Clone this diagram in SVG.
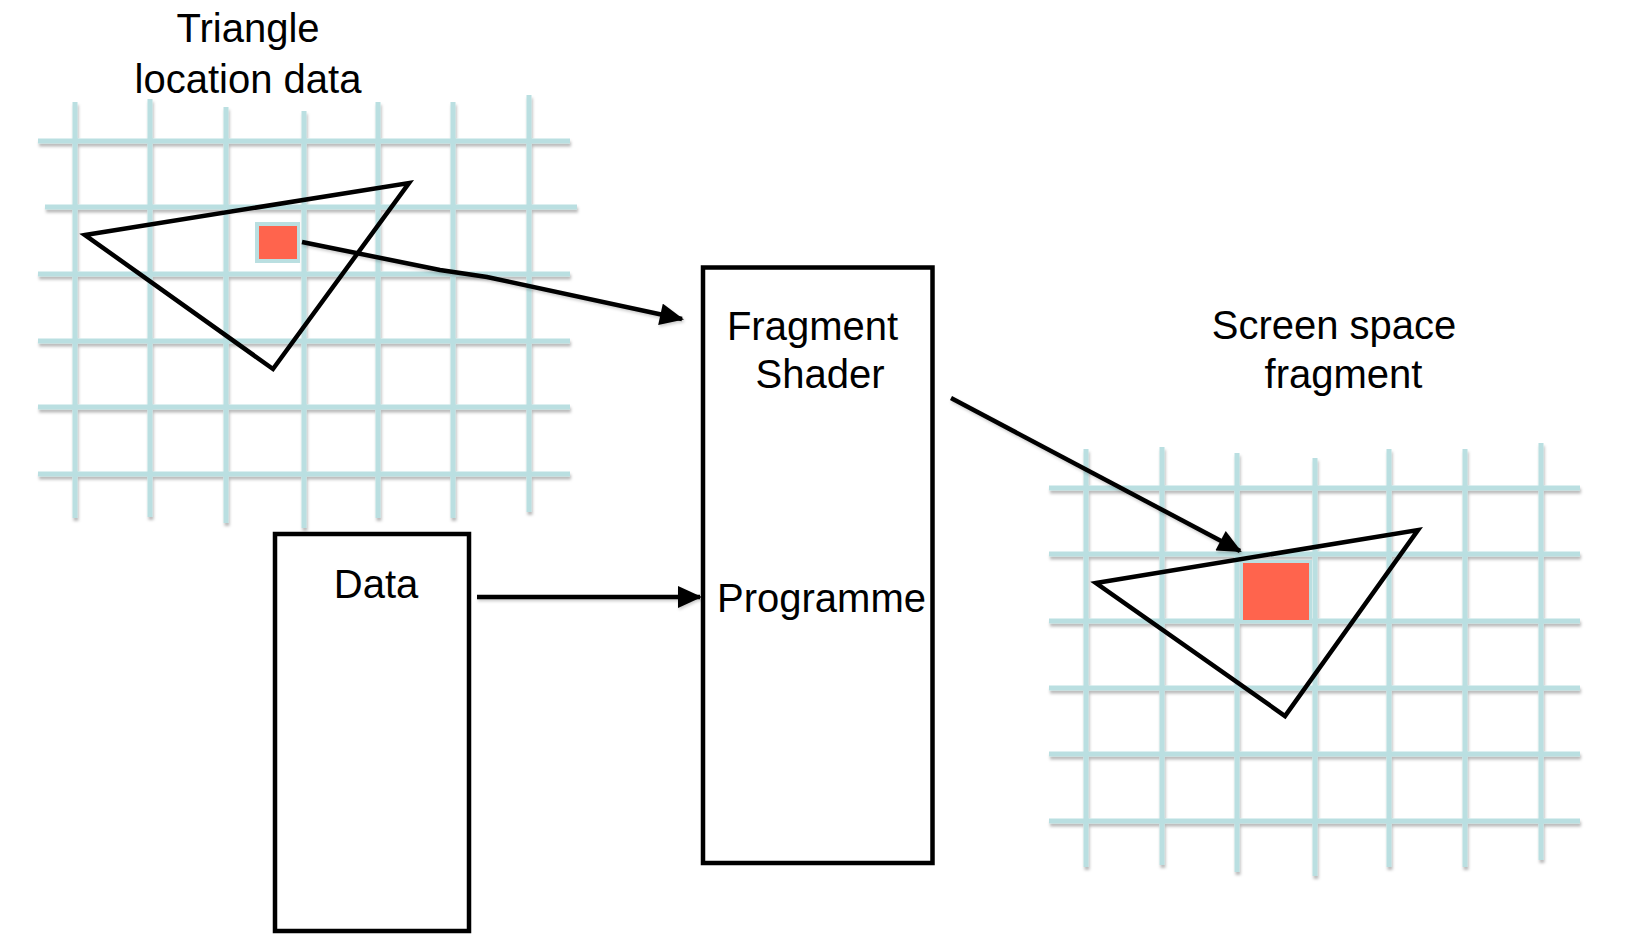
<svg xmlns="http://www.w3.org/2000/svg" width="1626" height="943" viewBox="0 0 1626 943">
<style>
  .grid line { stroke: #BADFE1; stroke-width: 5; }
  .box { fill: #FFFFFF; stroke: #000000; stroke-width: 4.5; }
  .tri { fill: none; stroke: #000000; stroke-width: 4.5; stroke-linejoin: miter; }
  .lbl { font-family: "Liberation Sans", Arial, sans-serif; font-size: 40px; fill: #000000; text-anchor: middle; }
  .conn { fill: none; stroke: #000000; stroke-width: 4.5; marker-end: url(#arrow); }
  .cell-border { fill: #BADFE1; }
  .cell { fill: #FF644D; }
</style>
<defs>
  <filter id="shadow" x="-5%" y="-5%" width="110%" height="115%">
    <feDropShadow dx="1" dy="3" stdDeviation="1.5" flood-color="#000000" flood-opacity="0.28"/>
  </filter>
  <filter id="lshadow" x="-5%" y="-10%" width="110%" height="130%">
    <feDropShadow dx="1" dy="2" stdDeviation="1.5" flood-color="#000000" flood-opacity="0.2"/>
  </filter>
  <marker id="arrow" markerUnits="userSpaceOnUse" markerWidth="26" markerHeight="22" viewBox="0 0 24 22" refX="22" refY="11" orient="auto">
    <path d="M0,0 L24,11 L0,22 Z" fill="#000000"/>
  </marker>
</defs>
<rect width="1626" height="943" fill="#FFFFFF"/>

<g id="triangle-location-data">
  <text class="lbl" x="248" y="42">Triangle</text>
  <text class="lbl" x="248" y="93">location data</text>
  <g class="grid" filter="url(#shadow)">
    <line x1="38" y1="141" x2="570" y2="141"/>
    <line x1="45" y1="207" x2="577" y2="207"/>
    <line x1="38" y1="274" x2="570" y2="274"/>
    <line x1="38" y1="341" x2="570" y2="341"/>
    <line x1="38" y1="407" x2="570" y2="407"/>
    <line x1="38" y1="474" x2="570" y2="474"/>
    <line x1="75" y1="102" x2="75" y2="518"/>
    <line x1="150" y1="99" x2="150" y2="517"/>
    <line x1="226" y1="107" x2="226" y2="523"/>
    <line x1="304" y1="111" x2="304" y2="528"/>
    <line x1="378" y1="102" x2="378" y2="518"/>
    <line x1="453" y1="102" x2="453" y2="518"/>
    <line x1="529" y1="95" x2="529" y2="512"/>
  </g>
  <rect class="cell-border" x="255" y="222" width="45" height="41"/>
  <rect class="cell" x="259" y="226" width="38" height="33"/>
  <polygon class="tri" points="85,235 409,183 273,369"/>
</g>

<g id="fragment-shader">
  <rect class="box" x="703" y="267.5" width="229.5" height="595.5"/>
  <text class="lbl" x="812.5" y="340">Fragment</text>
  <text class="lbl" x="820" y="388">Shader</text>
  <text class="lbl" x="821.5" y="612">Programme</text>
</g>

<g id="data">
  <rect class="box" x="275" y="534" width="194" height="397"/>
  <text class="lbl" x="376" y="598">Data</text>
</g>

<g id="screen-space-fragment">
  <text class="lbl" x="1334" y="339">Screen space</text>
  <text class="lbl" x="1343.5" y="388">fragment</text>
  <g class="grid" filter="url(#shadow)">
    <line x1="1049" y1="488" x2="1580" y2="488"/>
    <line x1="1049" y1="554" x2="1580" y2="554"/>
    <line x1="1049" y1="621" x2="1580" y2="621"/>
    <line x1="1049" y1="688" x2="1580" y2="688"/>
    <line x1="1049" y1="754" x2="1580" y2="754"/>
    <line x1="1049" y1="821" x2="1580" y2="821"/>
    <line x1="1086" y1="449" x2="1086" y2="867"/>
    <line x1="1162" y1="447" x2="1162" y2="865"/>
    <line x1="1237" y1="453" x2="1237" y2="872"/>
    <line x1="1315" y1="458" x2="1315" y2="876"/>
    <line x1="1389" y1="449" x2="1389" y2="867"/>
    <line x1="1465" y1="449" x2="1465" y2="867"/>
    <line x1="1541" y1="443" x2="1541" y2="860"/>
  </g>
  <rect class="cell-border" x="1240" y="560" width="72" height="63"/>
  <rect class="cell" x="1243" y="563" width="66" height="57"/>
  <polygon class="tri" points="1096,583 1418,530 1285,716"/>
</g>

<g id="connectors" filter="url(#lshadow)">
  <polyline class="conn" points="302,242 440,270 487,277 682,319"/>
  <line class="conn" x1="477" y1="597" x2="700" y2="597"/>
  <line class="conn" x1="951" y1="398" x2="1240" y2="551"/>
</g>
</svg>
